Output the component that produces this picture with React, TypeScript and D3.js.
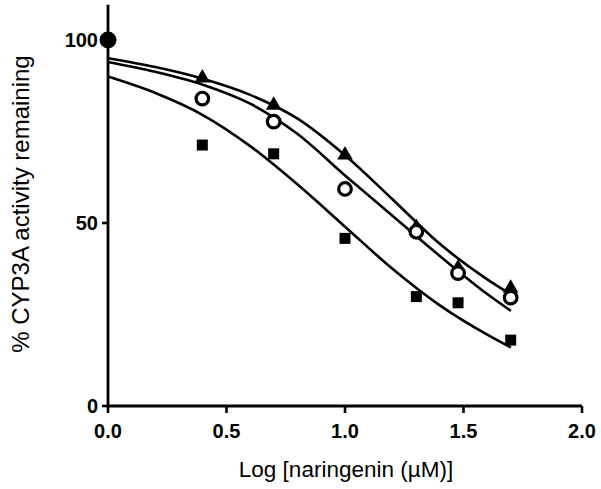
import React from "react";
import * as d3 from "d3";

const W = 601;
const H = 489;

const xTicks = [0.0, 0.5, 1.0, 1.5, 2.0];
const yTicks = [0, 50, 100];

// log concentrations
const logConc = [0.398, 0.699, 1.0, 1.301, 1.477, 1.699];
const triangleValues = [89.6, 82.2, 68.6, 48.8, 37.7, 32.2];
const circleValues = [84.0, 77.7, 59.3, 47.6, 36.3, 29.6];
const squareValues = [71.3, 68.9, 45.8, 29.9, 28.2, 18.0];
const controlPoint = { x: 0, y: 100 };

// fitted curves
const curveX = [0, 0.2, 0.4, 0.6, 0.8, 1.0, 1.2, 1.4, 1.6, 1.7];
const curveTriangle = [95, 92.6, 89.4, 85, 78.5, 68.5, 56.5, 44.3, 34.6, 30.5];
const curveCircle = [94, 91.3, 87.8, 82.6, 74.3, 63, 52, 41, 30.6, 26];
const curveSquare = [90, 85.5, 79.5, 71, 60.5, 49, 37.5, 27.5, 19.5, 16];

const FONT = "'Liberation Sans', Arial, Helvetica, sans-serif";

export default function App() {
  const x = d3.scaleLinear().domain([0, 2]).range([108, 582]);
  const y = d3.scaleLinear().domain([0, 100]).range([406, 40]);
  const yTop = y(109.6);

  const line = d3
    .line<[number, number]>()
    .x((d) => x(d[0]))
    .y((d) => y(d[1]))
    .curve(d3.curveMonotoneX);

  const curves = [curveTriangle, curveCircle, curveSquare].map((vals) =>
    line(curveX.map((cx, i) => [cx, vals[i]] as [number, number]))
  );

  const tri = d3.symbol().type(d3.symbolTriangle).size(105)();

  return (
    <svg width={W} height={H} style={{ position: "absolute", left: 0, top: 0, background: "#fff" }}>
      <rect width={W} height={H} fill="#fff" />
      {/* curves */}
      {curves.map((d, i) => (
        <path key={i} d={d || ""} fill="none" stroke="#000" strokeWidth={2.6} />
      ))}
      {/* axes */}
      <line x1={x(0)} x2={x(0)} y1={yTop} y2={y(0)} stroke="#000" strokeWidth={2.8} />
      <line x1={x(0) - 1.4} x2={x(2)} y1={y(0)} y2={y(0)} stroke="#000" strokeWidth={2.8} />
      {yTicks.map((t) => (
        <g key={"y" + t}>
          <line x1={x(0) - 6} x2={x(0)} y1={y(t)} y2={y(t)} stroke="#000" strokeWidth={2.6} />
          <text
            x={x(0) - 10}
            y={y(t)}
            dy="0.36em"
            textAnchor="end"
            fontFamily={FONT}
            fontWeight="bold"
            fontSize={20}
          >
            {t}
          </text>
        </g>
      ))}
      {xTicks.map((t) => (
        <g key={"x" + t}>
          <line x1={x(t)} x2={x(t)} y1={y(0)} y2={y(0) + 7} stroke="#000" strokeWidth={2.6} />
          <text
            x={x(t)}
            y={y(0) + 32}
            textAnchor="middle"
            fontFamily={FONT}
            fontWeight="bold"
            fontSize={20}
          >
            {t.toFixed(1)}
          </text>
        </g>
      ))}
      <text
        x={346}
        y={477}
        textAnchor="middle"
        fontFamily={FONT}
        fontSize={22.5}
      >
        Log [naringenin (µM)]
      </text>
      <text
        transform={`translate(29, 204) rotate(-90)`}
        textAnchor="middle"
        fontFamily={FONT}
        fontSize={24}
      >
        % CYP3A activity remaining
      </text>
      {/* markers */}
      {logConc.map((c, i) => (
        <rect
          key={"s" + i}
          x={x(c) - 5.5}
          y={y(squareValues[i]) - 5.5}
          width={11}
          height={11}
          fill="#000"
        />
      ))}
      {logConc.map((c, i) => (
        <path
          key={"t" + i}
          d={tri || ""}
          transform={`translate(${x(c)},${y(triangleValues[i])})`}
          fill="#000"
        />
      ))}
      {logConc.map((c, i) => (
        <circle
          key={"c" + i}
          cx={x(c)}
          cy={y(circleValues[i])}
          r={6.3}
          fill="#fff"
          stroke="#000"
          strokeWidth={3.2}
        />
      ))}
      <circle cx={x(controlPoint.x)} cy={y(controlPoint.y)} r={8.5} fill="#000" />
    </svg>
  );
}
